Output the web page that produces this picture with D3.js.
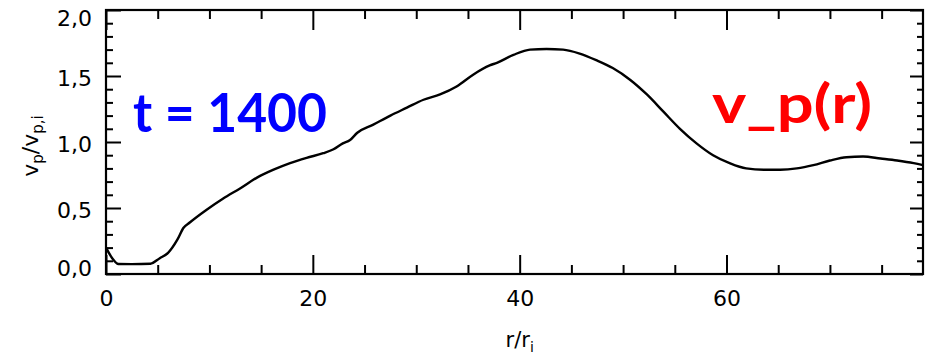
<!DOCTYPE html>
<html>
<head>
<meta charset="utf-8">
<script src="https://cdn.jsdelivr.net/npm/d3@7"></script>
<style>
  html, body { margin: 0; padding: 0; background: #fff; }
  svg { display: block; }
  .tick text { font-family: "DejaVu Sans", sans-serif; font-size: 22px; fill: #000; }
</style>
</head>
<body>
<svg id="chart" width="925" height="359"></svg>
<script>
// Radial profile of v_p, normalised to its initial value, at t = 1400
const radius = [0, 0.6, 1.2, 2.5, 4.3, 5.2, 6.0, 6.9, 7.5, 8.1, 9.7, 11.3, 13.0, 14.6, 16.2, 17.8, 19.4,
  21.0, 22.0, 22.9, 23.6, 24.3, 25.8, 27.5, 29.1, 30.7, 32.3, 33.9, 35.5, 37.1, 37.8, 39.4, 41.0,
  42.6, 44.2, 45.8, 47.4, 49.0, 50.7, 52.3, 53.9, 55.5, 57.1, 58.7, 60.3, 61.9, 63.6, 65.2, 66.8,
  68.4, 70.0, 71.6, 73.2, 74.9, 76.5, 78.1, 79.0];
const vp = [0.20, 0.12, 0.076, 0.075, 0.078, 0.12, 0.16, 0.26, 0.35, 0.39, 0.485, 0.57, 0.65, 0.73, 0.79, 0.84, 0.88,
  0.915, 0.945, 0.99, 1.015, 1.07, 1.13, 1.20, 1.26, 1.32, 1.36, 1.42, 1.51, 1.58, 1.60, 1.66, 1.70,
  1.705, 1.70, 1.67, 1.62, 1.56, 1.47, 1.36, 1.23, 1.10, 0.99, 0.90, 0.84, 0.80, 0.79, 0.79, 0.80,
  0.825, 0.86, 0.885, 0.89, 0.875, 0.86, 0.84, 0.825];

const xDomain = [0, 79];
const yDomain = [0, 2];
const xMajorTicks = [0, 20, 40, 60];
const xMinorTicks = [5, 10, 15, 25, 30, 35, 45, 50, 55, 65, 70, 75];
const yMajorTicks = [0, 0.5, 1.0, 1.5, 2.0];
const yMinorTicks = [0.1, 0.2, 0.3, 0.4, 0.6, 0.7, 0.8, 0.9, 1.1, 1.2, 1.3, 1.4, 1.6, 1.7, 1.8, 1.9];

const timeLabel = "t = 1400";
const curveLabel = "v_p(r)";

const margin = { left: 106, right: 2, top: 10, bottom: 85 };
const W = 925, H = 359;
const svg = d3.select("#chart");

const x = d3.scaleLinear().domain(xDomain).range([margin.left, W - margin.right]);
const y = d3.scaleLinear().domain(yDomain).range([H - margin.bottom, margin.top]);

const comma = d3.formatLocale({ decimal: ",", thousands: ".", grouping: [3], currency: ["", ""] }).format(".1f");

function styleAxis(g) {
  g.select(".domain").remove();
  g.selectAll(".tick line").attr("stroke", "#000").attr("stroke-width", 2);
}

// bottom axis: labelled major ticks and minor ticks pointing up
svg.append("g").attr("transform", `translate(0,${y(0)})`)
  .call(d3.axisBottom(x).tickValues(xMajorTicks).tickSize(-19).tickPadding(16).tickFormat(d3.format("d")))
  .call(styleAxis);
svg.append("g").attr("transform", `translate(0,${y(0)})`)
  .call(d3.axisBottom(x).tickValues(xMinorTicks).tickSize(-9).tickFormat(""))
  .call(styleAxis);

// top axis mirrors the bottom one, unlabelled
svg.append("g").attr("transform", `translate(0,${y(2)})`)
  .call(d3.axisTop(x).tickValues(xMajorTicks).tickSize(-20).tickFormat(""))
  .call(styleAxis);
svg.append("g").attr("transform", `translate(0,${y(2)})`)
  .call(d3.axisTop(x).tickValues(xMinorTicks).tickSize(-9).tickFormat(""))
  .call(styleAxis);

// left axis with comma decimals
const yLeft = svg.append("g").attr("transform", `translate(${x(0)},0)`)
  .call(d3.axisLeft(y).tickValues(yMajorTicks).tickSize(-15).tickPadding(14).tickFormat(comma))
  .call(styleAxis);
yLeft.selectAll(".tick text")
  .attr("dy", d => d === yDomain[1] ? "0.72em" : d === yDomain[0] ? "0.05em" : "0.45em");
svg.append("g").attr("transform", `translate(${x(0)},0)`)
  .call(d3.axisLeft(y).tickValues(yMinorTicks).tickSize(-7).tickFormat(""))
  .call(styleAxis);

// right axis, unlabelled
svg.append("g").attr("transform", `translate(${x(xDomain[1])},0)`)
  .call(d3.axisRight(y).tickValues(yMajorTicks).tickSize(-13).tickFormat(""))
  .call(styleAxis);
svg.append("g").attr("transform", `translate(${x(xDomain[1])},0)`)
  .call(d3.axisRight(y).tickValues(yMinorTicks).tickSize(-6).tickFormat(""))
  .call(styleAxis);

// plot frame
svg.append("rect")
  .attr("x", x(xDomain[0])).attr("y", y(yDomain[1]))
  .attr("width", x(xDomain[1]) - x(xDomain[0]))
  .attr("height", y(yDomain[0]) - y(yDomain[1]))
  .attr("fill", "none").attr("stroke", "#000").attr("stroke-width", 2.2);

// profile curve
const line = d3.line().x((d, i) => x(radius[i])).y(d => y(d)).curve(d3.curveMonotoneX);
svg.append("path").datum(vp)
  .attr("d", line)
  .attr("fill", "none").attr("stroke", "#000").attr("stroke-width", 2.4);

// axis titles
const axisFont = "\"DejaVu Sans\", sans-serif";
const xt = svg.append("text")
  .attr("x", x(40)).attr("y", 347)
  .attr("text-anchor", "middle")
  .attr("font-family", axisFont).attr("font-size", 21);
xt.append("tspan").text("r/r");
xt.append("tspan").attr("font-size", 14).attr("dy", 5).text("i");

const yt = svg.append("text")
  .attr("transform", `translate(38,${(y(0) + y(2)) / 2 + 4}) rotate(-90)`)
  .attr("text-anchor", "middle")
  .attr("font-family", axisFont).attr("font-size", 22);
yt.append("tspan").text("v");
yt.append("tspan").attr("font-size", 15).attr("dy", 5).text("p");
yt.append("tspan").attr("dy", -5).text("/v");
yt.append("tspan").attr("font-size", 15).attr("dy", 5).text("p,i");

// annotations
svg.append("text")
  .attr("x", 133).attr("y", 132)
  .attr("font-family", "Lato, sans-serif").attr("font-weight", "bold")
  .attr("font-size", 54).attr("fill", "#0000ff")
  .attr("textLength", 194).attr("lengthAdjust", "spacingAndGlyphs")
  .text(timeLabel);

svg.append("text")
  .attr("x", 712).attr("y", 123)
  .attr("font-family", "Lato, sans-serif").attr("font-weight", "bold")
  .attr("font-size", 54).attr("fill", "#ff0000")
  .attr("textLength", 160).attr("lengthAdjust", "spacingAndGlyphs")
  .text(curveLabel);
</script>
</body>
</html>
